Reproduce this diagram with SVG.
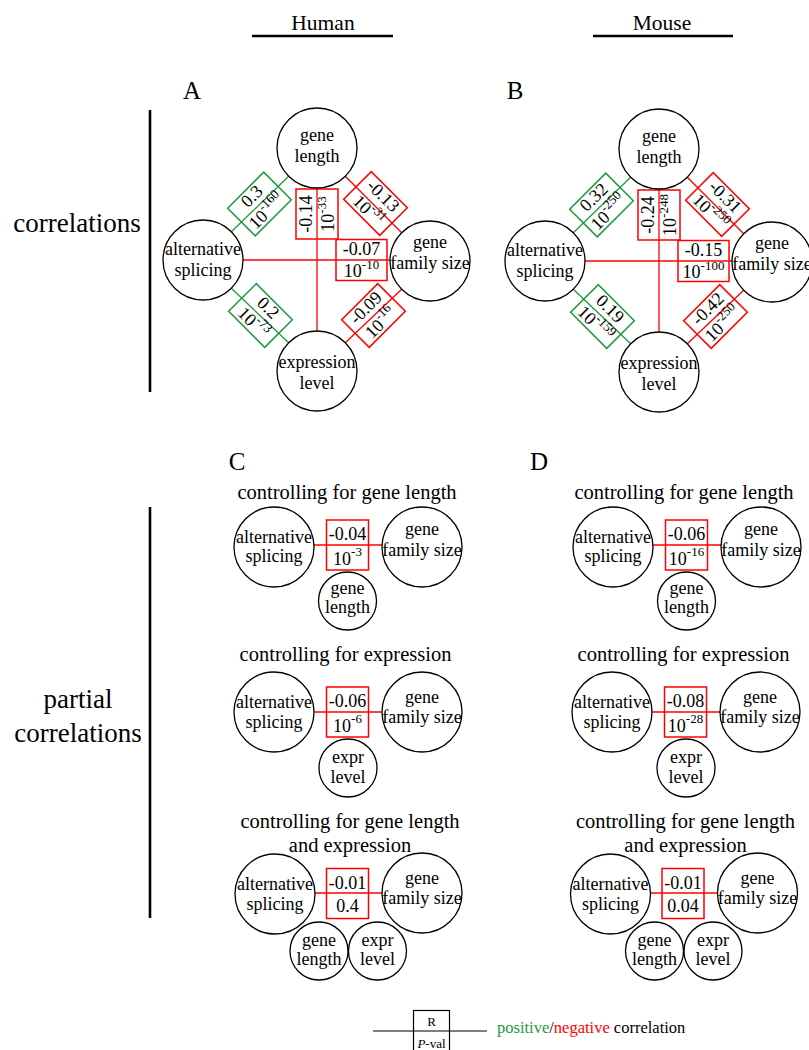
<svg xmlns="http://www.w3.org/2000/svg" width="809" height="1050" viewBox="0 0 809 1050">
<style>
text{font-family:"Liberation Serif","Times New Roman",serif;fill:#000;text-anchor:middle}
.nt{font-size:18px}
.sup{font-size:13px}
.node{fill:none;stroke:#000;stroke-width:1.3}
.lr{stroke:#f00;stroke-width:1.3;fill:none}
.lg{stroke:#1f9a3a;stroke-width:1.3;fill:none}
.br{fill:none;stroke:#f00;stroke-width:1.5}
.bg{fill:none;stroke:#1f9a3a;stroke-width:1.5}
.bar{stroke:#000;stroke-width:2.6}
.hdr{font-size:21.5px}
.lbl{font-size:25px}
.side{font-size:27px}
.ttl{font-size:20.5px}
</style>

<!-- headers and side labels -->
<g id="headers">
  <text class="hdr" x="323" y="30">Human</text>
  <line class="bar" x1="252" y1="36" x2="393" y2="36"/>
  <text class="hdr" x="662" y="30">Mouse</text>
  <line class="bar" x1="593" y1="36" x2="733" y2="36"/>
  <text class="lbl" x="192" y="99">A</text>
  <text class="lbl" x="515" y="99">B</text>
  <text class="lbl" x="237" y="470">C</text>
  <text class="lbl" x="539" y="470">D</text>
  <line class="bar" x1="150" y1="110" x2="150" y2="392"/>
  <text class="side" x="77" y="232">correlations</text>
  <line class="bar" x1="150" y1="507" x2="150" y2="918"/>
  <text class="side" x="78" y="708">partial</text>
  <text class="side" x="78" y="742">correlations</text>
</g>

<g id="connectors">
  <!-- Panel A -->
  <g id="conn-A">
    <line class="lr" x1="317" y1="188" x2="317" y2="331"/>
    <line class="lr" x1="243" y1="260" x2="390" y2="260"/>
    <line class="lg" x1="288.7" y1="176.3" x2="231.3" y2="231.7"/>
    <line class="lr" x1="345.3" y1="176.3" x2="401.7" y2="232.7"/>
    <line class="lg" x1="231.3" y1="288.3" x2="288.7" y2="342.7"/>
    <line class="lr" x1="401.7" y1="289.3" x2="345.3" y2="342.7"/>
    <g transform="translate(317,214) rotate(-90)">
      <rect class="br" x="-25" y="-21" width="50" height="42"/>
      <text class="nt" x="0" y="-5">-0.14</text>
      <text class="nt" x="0" y="17">10<tspan class="sup" dy="-8">-33</tspan></text>
    </g>
    <g transform="translate(361.5,260)">
      <rect class="br" x="-25.5" y="-20.5" width="51" height="41"/>
      <text class="nt" x="0" y="-5">-0.07</text>
      <text class="nt" x="0" y="17">10<tspan class="sup" dy="-8">-10</tspan></text>
    </g>
    <g transform="translate(259.5,204) rotate(-45)">
      <rect class="bg" x="-25.5" y="-19.5" width="51" height="39"/>
      <text class="nt" x="0" y="-5">0.3</text>
      <text class="nt" x="0" y="16">10<tspan class="sup" dy="-8">-160</tspan></text>
    </g>
    <g transform="translate(375.5,203.5) rotate(45)">
      <rect class="br" x="-25.5" y="-19.5" width="51" height="39"/>
      <text class="nt" x="0" y="-5">-0.13</text>
      <text class="nt" x="0" y="16">10<tspan class="sup" dy="-8">-31</tspan></text>
    </g>
    <g transform="translate(260.5,315.5) rotate(45)">
      <rect class="bg" x="-25.5" y="-19.5" width="51" height="39"/>
      <text class="nt" x="0" y="-5">0.2</text>
      <text class="nt" x="0" y="16">10<tspan class="sup" dy="-8">-73</tspan></text>
    </g>
    <g transform="translate(373.5,315.5) rotate(-45)">
      <rect class="br" x="-25.5" y="-19.5" width="51" height="39"/>
      <text class="nt" x="0" y="-5">-0.09</text>
      <text class="nt" x="0" y="16">10<tspan class="sup" dy="-8">-16</tspan></text>
    </g>
  </g>
  <!-- Panel B -->
  <g id="conn-B" transform="translate(342,1)">
    <line class="lr" x1="317" y1="188" x2="317" y2="331"/>
    <line class="lr" x1="243" y1="260" x2="390" y2="260"/>
    <line class="lg" x1="288.7" y1="176.3" x2="231.3" y2="231.7"/>
    <line class="lr" x1="345.3" y1="176.3" x2="401.7" y2="232.7"/>
    <line class="lg" x1="231.3" y1="288.3" x2="288.7" y2="342.7"/>
    <line class="lr" x1="401.7" y1="289.3" x2="345.3" y2="342.7"/>
    <g transform="translate(317,214) rotate(-90)">
      <rect class="br" x="-25" y="-21" width="50" height="42"/>
      <text class="nt" x="0" y="-5">-0.24</text>
      <text class="nt" x="0" y="17">10<tspan class="sup" dy="-8">-248</tspan></text>
    </g>
    <g transform="translate(361.5,260)">
      <rect class="br" x="-25.5" y="-20.5" width="51" height="41"/>
      <text class="nt" x="0" y="-5">-0.15</text>
      <text class="nt" x="0" y="17">10<tspan class="sup" dy="-8">-100</tspan></text>
    </g>
    <g transform="translate(259.5,204) rotate(-45)">
      <rect class="bg" x="-25.5" y="-19.5" width="51" height="39"/>
      <text class="nt" x="0" y="-5">0.32</text>
      <text class="nt" x="0" y="16">10<tspan class="sup" dy="-8">-250</tspan></text>
    </g>
    <g transform="translate(375.5,203.5) rotate(45)">
      <rect class="br" x="-25.5" y="-19.5" width="51" height="39"/>
      <text class="nt" x="0" y="-5">-0.31</text>
      <text class="nt" x="0" y="16">10<tspan class="sup" dy="-8">-250</tspan></text>
    </g>
    <g transform="translate(260.5,315.5) rotate(45)">
      <rect class="bg" x="-25.5" y="-19.5" width="51" height="39"/>
      <text class="nt" x="0" y="-5">0.19</text>
      <text class="nt" x="0" y="16">10<tspan class="sup" dy="-8">-159</tspan></text>
    </g>
    <g transform="translate(373.5,315.5) rotate(-45)">
      <rect class="br" x="-25.5" y="-19.5" width="51" height="39"/>
      <text class="nt" x="0" y="-5">-0.42</text>
      <text class="nt" x="0" y="16">10<tspan class="sup" dy="-8">-250</tspan></text>
    </g>
  </g>
  <!-- Panel C -->
  <g id="conn-C1">
    <line class="lr" x1="314" y1="545" x2="382" y2="545"/>
    <rect class="br" x="326.5" y="520" width="42" height="50"/>
    <text class="nt" x="347.5" y="540">-0.04</text>
    <text class="nt" x="347.5" y="565">10<tspan class="sup" dy="-9">-3</tspan></text>
  </g>
  <g id="conn-C2">
    <line class="lr" x1="314" y1="712" x2="382" y2="712"/>
    <rect class="br" x="326.5" y="687" width="42" height="50"/>
    <text class="nt" x="347.5" y="707">-0.06</text>
    <text class="nt" x="347.5" y="732">10<tspan class="sup" dy="-9">-6</tspan></text>
  </g>
  <g id="conn-C3">
    <line class="lr" x1="315" y1="893" x2="382" y2="893"/>
    <rect class="br" x="326.5" y="868.5" width="42" height="50"/>
    <text class="nt" x="347.5" y="888.5">-0.01</text>
    <text class="nt" x="347.5" y="912">0.4</text>
  </g>
  <!-- Panel D -->
  <g id="conn-D1" transform="translate(339,0)">
    <line class="lr" x1="314" y1="545" x2="382" y2="545"/>
    <rect class="br" x="326.5" y="520" width="42" height="50"/>
    <text class="nt" x="347.5" y="540">-0.06</text>
    <text class="nt" x="347.5" y="565">10<tspan class="sup" dy="-9">-16</tspan></text>
  </g>
  <g id="conn-D2" transform="translate(338,0)">
    <line class="lr" x1="314" y1="712" x2="382" y2="712"/>
    <rect class="br" x="326.5" y="687" width="42" height="50"/>
    <text class="nt" x="347.5" y="707">-0.08</text>
    <text class="nt" x="347.5" y="732">10<tspan class="sup" dy="-9">-28</tspan></text>
  </g>
  <g id="conn-D3" transform="translate(335.5,0)">
    <line class="lr" x1="315" y1="893" x2="382" y2="893"/>
    <rect class="br" x="326.5" y="868.5" width="42" height="50"/>
    <text class="nt" x="347.5" y="888.5">-0.01</text>
    <text class="nt" x="347.5" y="912">0.04</text>
  </g>
</g>

<!-- Panel A nodes -->
<g id="A-gene-length"><circle class="node" cx="317" cy="148" r="40"/><text class="nt" x="317" y="141">gene</text><text class="nt" x="317" y="162">length</text></g>
<g id="A-alternative-splicing"><circle class="node" cx="203" cy="260" r="40"/><text class="nt" x="203" y="255">alternative</text><text class="nt" x="203" y="276">splicing</text></g>
<g id="A-gene-family-size"><circle class="node" cx="430" cy="261" r="40"/><text class="nt" x="430" y="248">gene</text><text class="nt" x="430" y="269">family size</text></g>
<g id="A-expression-level"><circle class="node" cx="317" cy="371" r="40"/><text class="nt" x="317" y="368">expression</text><text class="nt" x="317" y="389">level</text></g>

<!-- Panel B nodes -->
<g transform="translate(342,1)">
<g id="B-gene-length"><circle class="node" cx="317" cy="148" r="40"/><text class="nt" x="317" y="141">gene</text><text class="nt" x="317" y="162">length</text></g>
<g id="B-alternative-splicing"><circle class="node" cx="203" cy="260" r="40"/><text class="nt" x="203" y="255">alternative</text><text class="nt" x="203" y="276">splicing</text></g>
<g id="B-gene-family-size"><circle class="node" cx="430" cy="261" r="40"/><text class="nt" x="430" y="248">gene</text><text class="nt" x="430" y="269">family size</text></g>
<g id="B-expression-level"><circle class="node" cx="317" cy="371" r="40"/><text class="nt" x="317" y="368">expression</text><text class="nt" x="317" y="389">level</text></g>
</g>

<!-- Panel C nodes -->
<text class="ttl" x="347" y="499">controlling for gene length</text>
<g id="C1-alternative-splicing"><circle class="node" cx="274" cy="547" r="40"/><text class="nt" x="274" y="543">alternative</text><text class="nt" x="274" y="562">splicing</text></g>
<g id="C1-gene-family-size"><circle class="node" cx="422" cy="547" r="40"/><text class="nt" x="422" y="535">gene</text><text class="nt" x="422" y="556">family size</text></g>
<g id="C1-gene-length"><circle class="node" cx="347.5" cy="601" r="29"/><text class="nt" x="347.5" y="594">gene</text><text class="nt" x="347.5" y="613">length</text></g>

<text class="ttl" x="345.5" y="661">controlling for expression</text>
<g id="C2-alternative-splicing"><circle class="node" cx="274" cy="712" r="40"/><text class="nt" x="274" y="708">alternative</text><text class="nt" x="274" y="728">splicing</text></g>
<g id="C2-gene-family-size"><circle class="node" cx="422" cy="712" r="40"/><text class="nt" x="422" y="703">gene</text><text class="nt" x="422" y="723">family size</text></g>
<g id="C2-expr-level"><circle class="node" cx="348" cy="768" r="29"/><text class="nt" x="348" y="763">expr</text><text class="nt" x="348" y="783">level</text></g>

<text class="ttl" x="350" y="828">controlling for gene length</text>
<text class="ttl" x="350" y="852">and expression</text>
<g id="C3-alternative-splicing"><circle class="node" cx="275" cy="894" r="40"/><text class="nt" x="275" y="890">alternative</text><text class="nt" x="275" y="910">splicing</text></g>
<g id="C3-gene-family-size"><circle class="node" cx="422" cy="893" r="40"/><text class="nt" x="422" y="884">gene</text><text class="nt" x="422" y="904">family size</text></g>
<g id="C3-gene-length"><circle class="node" cx="319" cy="951" r="29"/><text class="nt" x="319" y="946">gene</text><text class="nt" x="319" y="965">length</text></g>
<g id="C3-expr-level"><circle class="node" cx="377.5" cy="951" r="29"/><text class="nt" x="377.5" y="946">expr</text><text class="nt" x="377.5" y="965">level</text></g>

<!-- Panel D nodes -->
<g transform="translate(339,0)">
<text class="ttl" x="345" y="499">controlling for gene length</text>
<g id="D1-alternative-splicing"><circle class="node" cx="274" cy="547" r="40"/><text class="nt" x="274" y="543">alternative</text><text class="nt" x="274" y="562">splicing</text></g>
<g id="D1-gene-family-size"><circle class="node" cx="422" cy="547" r="40"/><text class="nt" x="422" y="535">gene</text><text class="nt" x="422" y="556">family size</text></g>
<g id="D1-gene-length"><circle class="node" cx="347.5" cy="601" r="29"/><text class="nt" x="347.5" y="594">gene</text><text class="nt" x="347.5" y="613">length</text></g>
</g>
<g transform="translate(338,0)">
<text class="ttl" x="345.5" y="661">controlling for expression</text>
<g id="D2-alternative-splicing"><circle class="node" cx="274" cy="712" r="40"/><text class="nt" x="274" y="708">alternative</text><text class="nt" x="274" y="728">splicing</text></g>
<g id="D2-gene-family-size"><circle class="node" cx="422" cy="712" r="40"/><text class="nt" x="422" y="703">gene</text><text class="nt" x="422" y="723">family size</text></g>
<g id="D2-expr-level"><circle class="node" cx="348" cy="768" r="29"/><text class="nt" x="348" y="763">expr</text><text class="nt" x="348" y="783">level</text></g>
</g>
<g transform="translate(335.5,0)">
<text class="ttl" x="350" y="828">controlling for gene length</text>
<text class="ttl" x="350" y="852">and expression</text>
<g id="D3-alternative-splicing"><circle class="node" cx="275" cy="894" r="40"/><text class="nt" x="275" y="890">alternative</text><text class="nt" x="275" y="910">splicing</text></g>
<g id="D3-gene-family-size"><circle class="node" cx="422" cy="893" r="40"/><text class="nt" x="422" y="884">gene</text><text class="nt" x="422" y="904">family size</text></g>
<g id="D3-gene-length"><circle class="node" cx="319" cy="951" r="29"/><text class="nt" x="319" y="946">gene</text><text class="nt" x="319" y="965">length</text></g>
<g id="D3-expr-level"><circle class="node" cx="377.5" cy="951" r="29"/><text class="nt" x="377.5" y="946">expr</text><text class="nt" x="377.5" y="965">level</text></g>
</g>

<!-- Legend -->
<g id="legend">
  <line x1="373" y1="1031" x2="487" y2="1031" stroke="#000" stroke-width="1.2"/>
  <rect x="413.5" y="1010.5" width="36" height="45" fill="none" stroke="#000" stroke-width="1.2"/>
  <text x="431.5" y="1026" font-size="13">R</text>
  <text x="431.5" y="1048" font-size="13"><tspan font-style="italic">P</tspan>-val</text>
  <text x="497" y="1033" font-size="16.5" style="text-anchor:start"><tspan fill="#1f9a3a">positive</tspan>/<tspan fill="#f00">negative</tspan> correlation</text>
</g>
</svg>
